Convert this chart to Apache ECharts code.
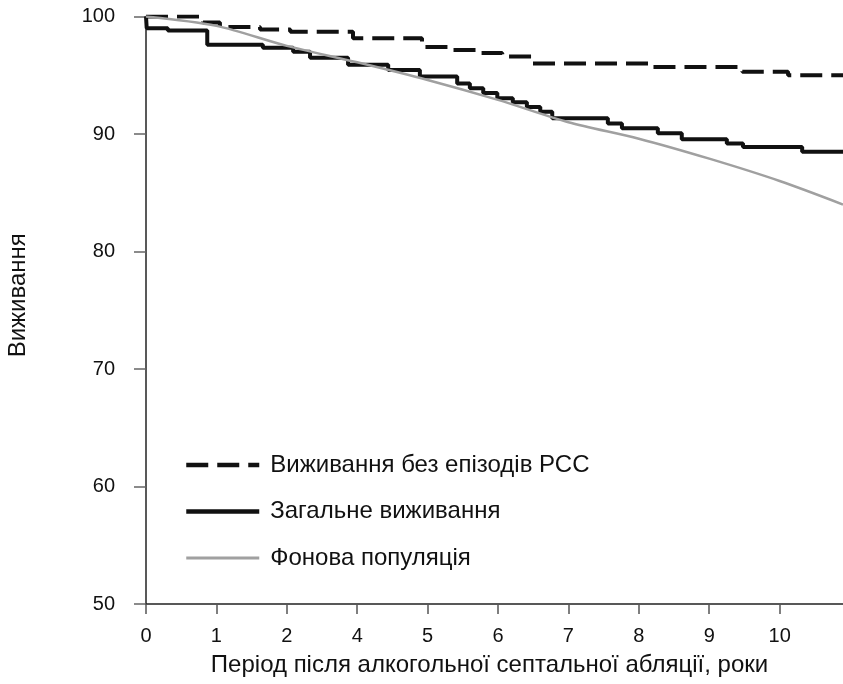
<!DOCTYPE html>
<html>
<head>
<meta charset="utf-8">
<script src="https://cdn.jsdelivr.net/npm/echarts@6/dist/echarts.min.js"></script>
<style>html,body{margin:0;padding:0;background:#fff}#c{width:843px;height:684px}</style>
</head>
<body>
<div id="c"></div>
<script>
// x positions are tick positions on the axis (0..9.9); tick labels skip "3" as in the original
var xTickLabels = ['0', '1', '2', '4', '5', '6', '7', '8', '9', '10'];
var yTicks = [50, 60, 70, 80, 90, 100];

var seriesNames = ['Виживання без епізодів РСС', 'Загальне виживання', 'Фонова популяція'];

var eventFree = [[0,100],[0.81,99.5],[1.05,99.1],[1.62,98.9],[2.05,98.7],[2.94,98.15],[3.92,97.4],[4.36,97.15],[4.74,96.9],[5.06,96.6],[5.48,96.0],[7.2,95.7],[8.47,95.3],[9.12,95.0],[9.9,95.0]];

var overall = [[0,100],[0.01,99.0],[0.31,98.8],[0.87,97.6],[1.66,97.35],[2.09,97.0],[2.33,96.5],[2.87,95.9],[3.44,95.45],[3.89,94.9],[4.42,94.3],[4.60,93.9],[4.79,93.5],[4.99,93.05],[5.21,92.7],[5.41,92.3],[5.60,91.9],[5.77,91.35],[6.56,90.9],[6.76,90.5],[7.27,90.07],[7.61,89.56],[8.25,89.2],[8.48,88.9],[9.32,88.5],[9.9,88.5]];

var background = [[0,100],[1,99.2],[2,97.5],[3,96.1],[4,94.6],[5,92.9],[6,91.0],[7,89.6],[8,87.9],[9,86.0],[9.9,84.0]];

var chart = echarts.init(document.getElementById('c'), null, {renderer: 'canvas'});
var font = 'Liberation Sans, Arial, Helvetica, sans-serif';
chart.setOption({
  animation: false,
  backgroundColor: '#fff',
  textStyle: {fontFamily: font},
  grid: {left: 146, right: 0, top: 16.5, bottom: 80, containLabel: false, outerBoundsMode: 'none'},
  legend: {
    orient: 'vertical',
    left: 184,
    top: 453,
    padding: 0,
    itemWidth: 73,
    itemHeight: 14,
    itemGap: 22.5,
    data: [
      {name: seriesNames[0], lineStyle: {width: 4.5}},
      {name: seriesNames[1], lineStyle: {width: 4.5}},
      {name: seriesNames[2], lineStyle: {width: 3}}
    ],
    lineStyle: {width: 'inherit'},
    itemStyle: {opacity: 0, borderWidth: 0},
    textStyle: {fontSize: 24, color: '#111', fontFamily: font, padding: [0,0,0,6]}
  },
  xAxis: {
    type: 'value',
    min: 0,
    max: 9.9,
    interval: 1,
    name: 'Період після алкогольної септальної абляції, роки',
    nameLocation: 'middle',
    nameGap: 49,
    nameTextStyle: {fontSize: 24, color: '#111', fontFamily: font, padding: [0, 10, 0, 0]},
    axisLine: {show: true, lineStyle: {color: '#222', width: 1.5}},
    axisTick: {show: true, length: 10, lineStyle: {color: '#555', width: 1.5}},
    axisLabel: {
      fontSize: 20, color: '#111', margin: 22, showMaxLabel: false,
      formatter: function (v) { var i = Math.round(v); return (Math.abs(v - i) < 1e-6 && i < xTickLabels.length) ? xTickLabels[i] : ''; }
    },
    splitLine: {show: false}
  },
  yAxis: {
    type: 'value',
    min: yTicks[0],
    max: yTicks[yTicks.length - 1],
    interval: 10,
    name: 'Виживання',
    nameLocation: 'middle',
    nameGap: 116,
    nameTextStyle: {fontSize: 24, color: '#111', fontFamily: font, padding: [0,0,0,30]},
    axisLine: {show: true, lineStyle: {color: '#222', width: 1.5}},
    axisTick: {show: true, length: 12, lineStyle: {color: '#666', width: 1.5}},
    axisLabel: {fontSize: 20, color: '#111', margin: 31},
    splitLine: {show: false}
  },
  series: [
    {
      name: seriesNames[0], type: 'line', step: 'end', data: eventFree,
      symbol: 'none', color: '#111',
      lineStyle: {color: '#111', width: 4, type: [22, 9]}
    },
    {
      name: seriesNames[1], type: 'line', step: 'end', data: overall,
      symbol: 'none', color: '#111',
      lineStyle: {color: '#111', width: 4}
    },
    {
      name: seriesNames[2], type: 'line', smooth: 0.3, data: background,
      symbol: 'none', color: '#a0a0a0',
      lineStyle: {color: '#a0a0a0', width: 2.5}
    }
  ]
});
</script>
</body>
</html>
